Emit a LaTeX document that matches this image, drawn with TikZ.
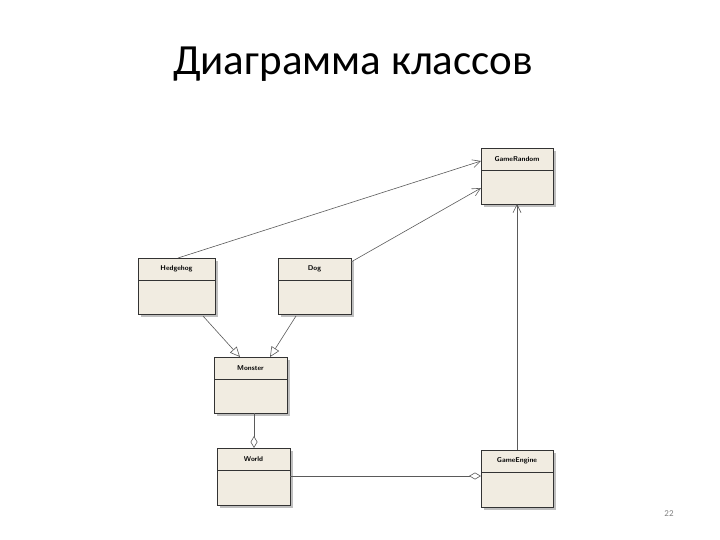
\documentclass[tikz,border=0pt]{standalone}
\usepackage{fontspec}
\setmainfont{Carlito}
\usetikzlibrary{arrows.meta}
\definecolor{boxfill}{RGB}{241,236,225}
\definecolor{lin}{RGB}{90,90,90}
\tikzset{
  cls/.style={draw=black!80, fill=boxfill, line width=0.8pt},
  dep/.style={draw=lin, line width=0.6pt, -{Straight Barb[length=8pt,width=8pt]}},
  gen/.style={draw=lin, line width=0.6pt, -{Triangle[open,length=10pt,width=9pt,fill=white]}},
  agg/.style={draw=lin, line width=0.6pt, {Diamond[open,length=12pt,width=7pt,fill=white]}-},
  lbl/.style={font=\fontsize{7}{8}\selectfont\sffamily\bfseries}
}
\newcommand{\umlbox}[6]{% name, x1,y1,x2,y2,label
  \fill[black!25] (#2+3,#3+3) rectangle (#4+3,#5+3);
  \draw[cls] (#2,#3) rectangle (#4,#5);
  \draw[black!80,line width=0.6pt] (#2,#3+22) -- (#4,#3+22);
  \node[lbl] at ({(#2+#4)/2},#3+11) {#6};
  \coordinate (#1) at ({(#2+#4)/2},{(#3+#5)/2});
}
\begin{document}
\begin{tikzpicture}[x=1pt,y=-1pt]
\useasboundingbox (0,0) rectangle (720,540);
\node (title) at (353,64) {\fontsize{43}{50}\selectfont Диаграмма классов};
\node[text=black!50] (pg) at (669,514) {\fontsize{9}{10}\selectfont 22};
\umlbox{gr}{481}{148}{553}{204}{GameRandom}
\umlbox{hh}{138}{258}{215}{314}{Hedgehog}
\umlbox{dog}{278}{258}{351}{314}{Dog}
\umlbox{mon}{214}{357}{287}{413}{Monster}
\umlbox{wor}{217}{448}{290}{505}{World}
\umlbox{ge}{481}{450}{553}{507}{GameEngine}
\coordinate (hhT) at (178,258); \coordinate (grA) at (481,161);
\coordinate (dogR) at (351,262); \coordinate (grB) at (481,188);
\coordinate (hhB) at (203,316); \coordinate (monA) at (240,357);
\coordinate (dogB) at (296,316); \coordinate (monB) at (270,357);
\coordinate (monD) at (254,413); \coordinate (worT) at (254,448);
\coordinate (worR) at (290,476); \coordinate (geL) at (481,476);
\coordinate (geT) at (517,450); \coordinate (grD) at (517,204);
\draw[dep] (hhT) -- (grA);
\draw[dep] (dogR) -- (grB);
\draw[gen] (hhB) -- (monA);
\draw[gen] (dogB) -- (monB);
\draw[agg] (worT) -- (monD);
\draw[agg] (geL) -- (worR);
\draw[dep] (geT) -- (grD);
\end{tikzpicture}
\end{document}
